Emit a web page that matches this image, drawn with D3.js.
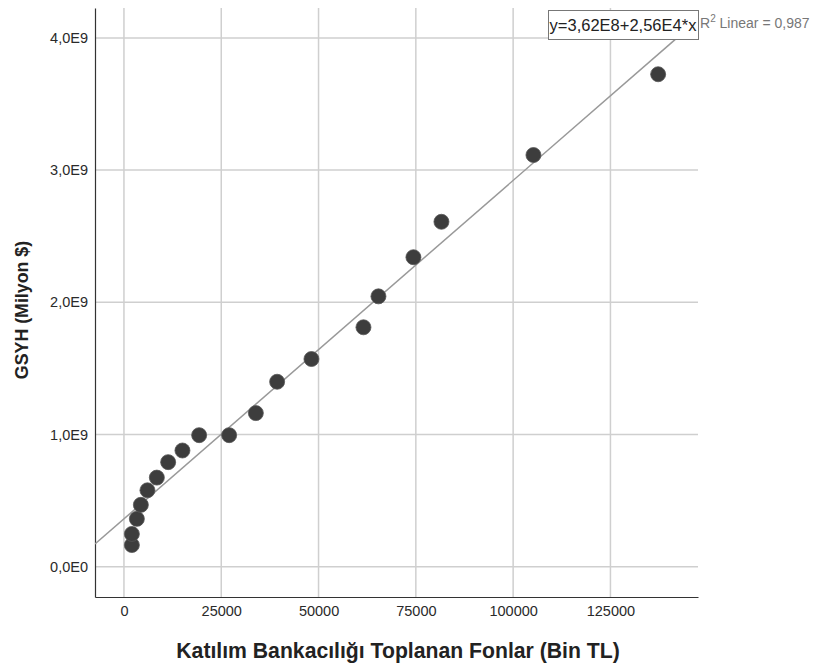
<!DOCTYPE html>
<html><head><meta charset="utf-8">
<script src="https://cdn.jsdelivr.net/npm/d3@7"></script>
<style>body{margin:0;background:#fff;font-family:"Liberation Sans",Arial,sans-serif;}</style>
</head><body>
<svg id="c" width="814" height="664"></svg>
<script>
const fonX = [2030, 2030, 3315, 4340, 6040, 8450, 11360, 15030, 19320, 27030, 33890, 39360, 48180, 61540, 65390, 74380, 81580, 105220, 137260];
const gsyh = [0.164e9, 0.248e9, 0.362e9, 0.468e9, 0.578e9, 0.674e9, 0.791e9, 0.879e9, 0.995e9, 0.995e9, 1.162e9, 1.399e9, 1.571e9, 1.811e9, 2.045e9, 2.341e9, 2.609e9, 3.114e9, 3.725e9];
const xTicks = [0, 25000, 50000, 75000, 100000, 125000];
const yTicks = [0, 1e9, 2e9, 3e9, 4e9];
const yTickLabels = ["0,0E0", "1,0E9", "2,0E9", "3,0E9", "4,0E9"];
const intercept = 3.62e8, slope = 2.56e4;
const eqLabel = "y=3,62E8+2,56E4*x";
const r2Label = ["R", "2", " Linear = 0,987"];
const xTitle = "Katılım Bankacılığı Toplanan Fonlar (Bin TL)";
const yTitle = "GSYH (Milyon $)";

const svg = d3.select("#c");
const L = 95, R = 698, T = 8, B = 597;
const x = d3.scaleLinear().domain([-7440, 147500]).range([L, R]);
const y = d3.scaleLinear().domain([-0.229e9, 4.226e9]).range([B, T]);

// grid
svg.append("g").selectAll("line").data(xTicks).join("line")
  .attr("x1", d => x(d)).attr("x2", d => x(d)).attr("y1", T).attr("y2", B)
  .attr("stroke", "#cfcfcf").attr("stroke-width", 1.5);
svg.append("g").selectAll("line").data(yTicks).join("line")
  .attr("x1", L).attr("x2", R).attr("y1", d => y(d)).attr("y2", d => y(d))
  .attr("stroke", "#cfcfcf").attr("stroke-width", 1.5);

// axes
const xAxis = d3.axisBottom(x).tickValues(xTicks).tickFormat(d3.format("d")).tickSize(0).tickPadding(9);
const gx = svg.append("g").attr("transform", `translate(0,${B})`).call(xAxis);
gx.select(".domain").attr("stroke", "#333").attr("stroke-width", 1.2);
gx.selectAll("text").attr("font-size", 14.5).attr("fill", "#2a2a2a").attr("font-family", "Liberation Sans, Arial, sans-serif");
const yAxis = d3.axisLeft(y).tickValues(yTicks).tickFormat((d, i) => yTickLabels[i]).tickSize(0).tickPadding(7);
const gy = svg.append("g").attr("transform", `translate(${L},0)`).call(yAxis);
gy.select(".domain").attr("stroke", "#333").attr("stroke-width", 1.2);
gy.selectAll("text").attr("font-size", 14.5).attr("fill", "#2a2a2a").attr("font-family", "Liberation Sans, Arial, sans-serif");

// fit line clipped to plot
svg.append("clipPath").attr("id", "clip").append("rect").attr("x", L).attr("y", T).attr("width", R - L).attr("height", B - T);
const xs = x.domain();
svg.append("line").attr("clip-path", "url(#clip)")
  .attr("x1", x(xs[0])).attr("y1", y(intercept + slope * xs[0]))
  .attr("x2", x(xs[1])).attr("y2", y(intercept + slope * xs[1]))
  .attr("stroke", "#999").attr("stroke-width", 1.5);

// points
svg.append("g").selectAll("circle").data(fonX.map((v, i) => [v, gsyh[i]])).join("circle")
  .attr("cx", d => x(d[0])).attr("cy", d => y(d[1])).attr("r", 7.5)
  .attr("fill", "#3d3d3d").attr("stroke", "#555").attr("stroke-width", 0.8);

// equation box
const eq = svg.append("g");
eq.append("rect").attr("x", 548.5).attr("y", 10.5).attr("width", 150).attr("height", 29)
  .attr("fill", "#fff").attr("stroke", "#777").attr("stroke-width", 1);
eq.append("text").attr("x", 623).attr("y", 31).attr("text-anchor", "middle")
  .attr("font-size", 16.5).attr("fill", "#222").text(eqLabel);
const r2 = svg.append("text").attr("x", 700).attr("y", 28).attr("font-size", 14).attr("fill", "#777");
r2.append("tspan").text(r2Label[0]);
r2.append("tspan").attr("dy", -6).attr("font-size", 10).text(r2Label[1]);
r2.append("tspan").attr("dy", 6).text(r2Label[2]);

// titles
svg.append("text").attr("x", 398).attr("y", 658).attr("text-anchor", "middle")
  .attr("font-size", 21.2).attr("font-weight", "bold").attr("fill", "#222").text(xTitle);
svg.append("text").attr("transform", "translate(27.5,310) rotate(-90)").attr("text-anchor", "middle")
  .attr("font-size", 17.8).attr("font-weight", "bold").attr("fill", "#222").text(yTitle);
</script>
</body></html>
